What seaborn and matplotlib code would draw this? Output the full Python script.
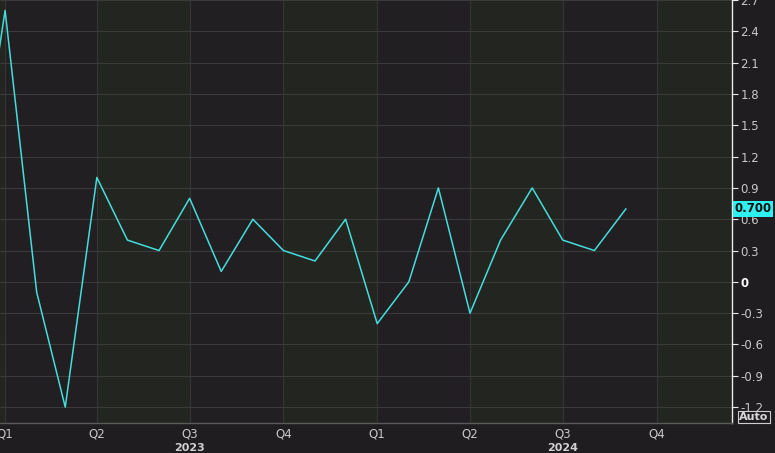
import matplotlib
matplotlib.use('Agg')
import matplotlib.pyplot as plt
import matplotlib.dates as mdates
import matplotlib.transforms as mtransforms
import numpy as np
import pandas as pd
import seaborn as sns

# monthly readings, Dec 2022 .. Sep 2024
months = pd.date_range('2022-12-01', '2024-09-01', freq='MS')
values = [0.6, 2.6, -0.1, -1.2, 1.0, 0.4, 0.3, 0.8, 0.1, 0.6, 0.3, 0.2,
          0.6, -0.4, 0.0, 0.9, -0.3, 0.4, 0.9, 0.4, 0.3, 0.7]
y_ticks = [-1.2, -0.9, -0.6, -0.3, 0, 0.3, 0.6, 0.9, 1.2, 1.5, 1.8, 2.1, 2.4, 2.7]
quarter_starts = pd.date_range('2022-10-01', '2025-01-01', freq='QS')
years = ['2023', '2024']

df = pd.DataFrame({'date': months, 'value': values})

sns.set_style('dark')
plt.rcParams['font.family'] = ['DejaVu Sans']

fig = plt.figure(figsize=(7.75, 4.53), dpi=100, facecolor='#1f1d20')
ax = fig.add_axes([0, 30 / 453, 732 / 775, 423 / 453])
ax.set_facecolor('#221f22')

# alternating quarter bands
for i in range(len(quarter_starts) - 1):
    col = '#232620' if i % 2 == 0 else '#221f22'
    ax.axvspan(quarter_starts[i], quarter_starts[i + 1], color=col, zorder=0, lw=0)

sns.lineplot(data=df, x='date', y='value', ax=ax, color='#45dcdc', lw=1.1, zorder=3)

ax.set_xlim(pd.Timestamp('2022-12-27'), pd.Timestamp('2024-12-14'))
ax.set_ylim(-1.352, 2.676)
ax.set_xlabel('')
ax.set_ylabel('')

# y axis on the right
ax.yaxis.tick_right()
ax.set_yticks(y_ticks)
ax.set_yticklabels(['0' if v == 0 else f'{v:.1f}' for v in y_ticks])
ax.tick_params(axis='y', colors='#e8e8e8', labelcolor='#c8c8c8', length=4,
               width=0.8, labelsize=8.5, pad=2, direction='out')
for lab in ax.get_yticklabels():
    if lab.get_text() == '0':
        lab.set_fontweight('bold')
        lab.set_color('white')

# x axis: quarters major, months minor
ax.xaxis.set_major_locator(mdates.MonthLocator(bymonth=[1, 4, 7, 10]))
ax.xaxis.set_minor_locator(mdates.MonthLocator())
ax.xaxis.set_major_formatter(
    matplotlib.ticker.FuncFormatter(lambda x, p: f'Q{(mdates.num2date(x).month - 1) // 3 + 1}'))
ax.tick_params(axis='x', which='both', colors='#bdbdbd', labelcolor='#c8c8c8',
               length=3, width=0.8, labelsize=8.5, pad=0.5, direction='out')

ax.grid(True, axis='y', color='#3a3a3a', lw=0.8)
ax.grid(True, axis='x', which='major', color='#353535', lw=0.8)
ax.set_axisbelow(True)

for s in ['top', 'left']:
    ax.spines[s].set_visible(False)
ax.spines['right'].set_color('#e8e8e8')
ax.spines['right'].set_linewidth(1.0)
ax.spines['bottom'].set_color('#5a5a5a')
ax.spines['bottom'].set_linewidth(1.0)

# year labels under mid-year
trans = mtransforms.blended_transform_factory(ax.transData, ax.transAxes)
for yr in years:
    ax.text(pd.Timestamp(f'{yr}-07-01'), -0.06, yr, transform=trans,
            ha='center', va='center', color='#d0d0d0', fontsize=8, fontweight='bold')

# last value tag
trans_y = mtransforms.blended_transform_factory(ax.transAxes, ax.transData)
ax.text(1.003, values[-1], f'{values[-1]:.3f}', transform=trans_y, ha='left',
        va='center', color='#101010', fontsize=8.5, fontweight='bold',
        bbox=dict(boxstyle='square,pad=0.12', facecolor='#2ff0f0', edgecolor='none'),
        clip_on=False, zorder=5)

fig.text(0.9535, 0.0795, 'Auto', ha='left', va='center', color='#d8d8d8',
         fontsize=8, fontweight='bold',
         bbox=dict(boxstyle='square,pad=0.12', facecolor='none', edgecolor='#cfcfcf', lw=0.8))

fig.savefig('out.png', dpi=100, facecolor=fig.get_facecolor())
